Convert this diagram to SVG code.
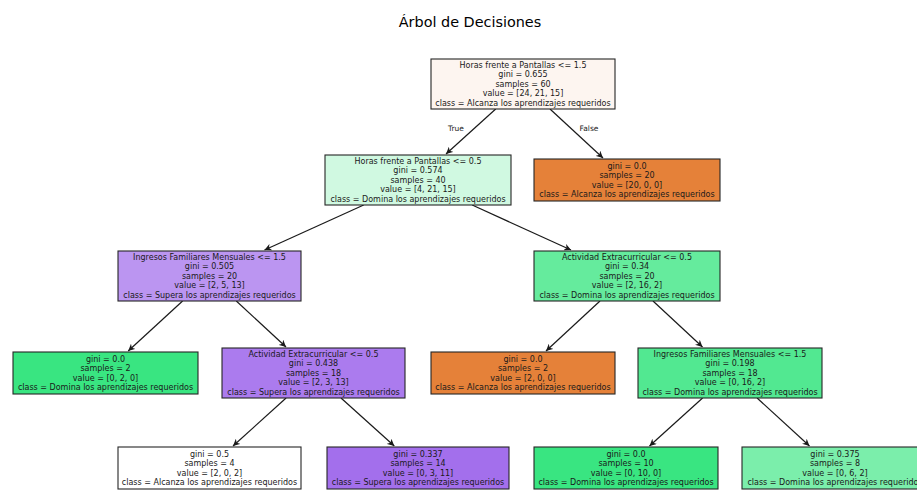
<svg xmlns="http://www.w3.org/2000/svg" width="917" height="491" viewBox="0 0 917 491">
<defs>
<marker id="ah" viewBox="0 0 10 10" refX="10" refY="5" markerWidth="7" markerHeight="7" markerUnits="userSpaceOnUse" orient="auto">
<path d="M0,0 L10,5 L0,10 L3,5 Z" fill="#1a1a1a"/>
</marker>
<style>
text{font-family:"DejaVu Sans","Liberation Sans",sans-serif;fill:#1a1a1a;text-anchor:middle}
.t{font-size:8px}
.title{font-size:14.4px;fill:#000}
.lbl{font-size:7.5px}
.n rect{stroke:#262626;stroke-width:1.1}
.c line{stroke:#1a1a1a;stroke-width:1.2;marker-end:url(#ah)}
</style>
</defs>
<text class="title" x="470" y="27">Árbol de Decisiones</text>

<g id="connectors" class="c">
<line x1="495.7" y1="109" x2="446" y2="154"/>
<line x1="550" y1="109" x2="603" y2="158"/>
<line x1="363.7" y1="205" x2="264.5" y2="250"/>
<line x1="472.2" y1="205" x2="571" y2="250"/>
<line x1="182.6" y1="301" x2="128.2" y2="351"/>
<line x1="236.3" y1="301" x2="286" y2="347"/>
<line x1="600" y1="301" x2="546" y2="351"/>
<line x1="653" y1="301" x2="702.5" y2="347"/>
<line x1="286.1" y1="398" x2="233" y2="446"/>
<line x1="341" y1="398" x2="394.3" y2="446"/>
<line x1="702.6" y1="398" x2="649.5" y2="446"/>
<line x1="757.1" y1="398" x2="809.5" y2="446"/>
</g>
<text class="lbl" x="456" y="131">True</text>
<text class="lbl" x="589" y="131">False</text>

<g id="n0" class="n">
<rect x="431" y="59" width="184" height="50" fill="#fdf5f0"/>
<text class="t" x="523" y="67.9">Horas frente a Pantallas &lt;= 1.5</text>
<text class="t" x="523" y="77.4">gini = 0.655</text>
<text class="t" x="523" y="86.9">samples = 60</text>
<text class="t" x="523" y="96.4">value = [24, 21, 15]</text>
<text class="t" x="523" y="105.9">class = Alcanza los aprendizajes requeridos</text>
</g>

<g id="n1" class="n">
<rect x="325" y="155" width="186" height="50" fill="#d0f9e1"/>
<text class="t" x="418" y="163.9">Horas frente a Pantallas &lt;= 0.5</text>
<text class="t" x="418" y="173.4">gini = 0.574</text>
<text class="t" x="418" y="182.9">samples = 40</text>
<text class="t" x="418" y="192.4">value = [4, 21, 15]</text>
<text class="t" x="418" y="201.9">class = Domina los aprendizajes requeridos</text>
</g>

<g id="n2" class="n">
<rect x="534" y="159" width="186" height="42" fill="#e58139"/>
<text class="t" x="627" y="168.65">gini = 0.0</text>
<text class="t" x="627" y="178.15">samples = 20</text>
<text class="t" x="627" y="187.65">value = [20, 0, 0]</text>
<text class="t" x="627" y="197.15">class = Alcanza los aprendizajes requeridos</text>
</g>

<g id="n3" class="n">
<rect x="118" y="251" width="183" height="50" fill="#bb95f1"/>
<text class="t" x="209.5" y="259.9">Ingresos Familiares Mensuales &lt;= 1.5</text>
<text class="t" x="209.5" y="269.4">gini = 0.505</text>
<text class="t" x="209.5" y="278.9">samples = 20</text>
<text class="t" x="209.5" y="288.4">value = [2, 5, 13]</text>
<text class="t" x="209.5" y="297.9">class = Supera los aprendizajes requeridos</text>
</g>

<g id="n4" class="n">
<rect x="534" y="251" width="186" height="50" fill="#65eb9d"/>
<text class="t" x="627" y="259.9">Actividad Extracurricular &lt;= 0.5</text>
<text class="t" x="627" y="269.4">gini = 0.34</text>
<text class="t" x="627" y="278.9">samples = 20</text>
<text class="t" x="627" y="288.4">value = [2, 16, 2]</text>
<text class="t" x="627" y="297.9">class = Domina los aprendizajes requeridos</text>
</g>

<g id="n5" class="n">
<rect x="13" y="352" width="185" height="42" fill="#39e581"/>
<text class="t" x="105.5" y="361.65">gini = 0.0</text>
<text class="t" x="105.5" y="371.15">samples = 2</text>
<text class="t" x="105.5" y="380.65">value = [0, 2, 0]</text>
<text class="t" x="105.5" y="390.15">class = Domina los aprendizajes requeridos</text>
</g>

<g id="n6" class="n">
<rect x="222" y="348" width="183" height="50" fill="#ab7bee"/>
<text class="t" x="313.5" y="356.9">Actividad Extracurricular &lt;= 0.5</text>
<text class="t" x="313.5" y="366.4">gini = 0.438</text>
<text class="t" x="313.5" y="375.9">samples = 18</text>
<text class="t" x="313.5" y="385.4">value = [2, 3, 13]</text>
<text class="t" x="313.5" y="394.9">class = Supera los aprendizajes requeridos</text>
</g>

<g id="n7" class="n">
<rect x="431" y="352" width="184" height="42" fill="#e58139"/>
<text class="t" x="523" y="361.65">gini = 0.0</text>
<text class="t" x="523" y="371.15">samples = 2</text>
<text class="t" x="523" y="380.65">value = [2, 0, 0]</text>
<text class="t" x="523" y="390.15">class = Alcanza los aprendizajes requeridos</text>
</g>

<g id="n8" class="n">
<rect x="638" y="348" width="184" height="50" fill="#52e891"/>
<text class="t" x="730" y="356.9">Ingresos Familiares Mensuales &lt;= 1.5</text>
<text class="t" x="730" y="366.4">gini = 0.198</text>
<text class="t" x="730" y="375.9">samples = 18</text>
<text class="t" x="730" y="385.4">value = [0, 16, 2]</text>
<text class="t" x="730" y="394.9">class = Domina los aprendizajes requeridos</text>
</g>

<g id="n9" class="n">
<rect x="118" y="447" width="183" height="42" fill="#ffffff"/>
<text class="t" x="209.5" y="456.65">gini = 0.5</text>
<text class="t" x="209.5" y="466.15">samples = 4</text>
<text class="t" x="209.5" y="475.65">value = [2, 0, 2]</text>
<text class="t" x="209.5" y="485.15">class = Alcanza los aprendizajes requeridos</text>
</g>

<g id="n10" class="n">
<rect x="327" y="447" width="182" height="42" fill="#a36fec"/>
<text class="t" x="418" y="456.65">gini = 0.337</text>
<text class="t" x="418" y="466.15">samples = 14</text>
<text class="t" x="418" y="475.65">value = [0, 3, 11]</text>
<text class="t" x="418" y="485.15">class = Supera los aprendizajes requeridos</text>
</g>

<g id="n11" class="n">
<rect x="534" y="447" width="184" height="42" fill="#39e581"/>
<text class="t" x="626" y="456.65">gini = 0.0</text>
<text class="t" x="626" y="466.15">samples = 10</text>
<text class="t" x="626" y="475.65">value = [0, 10, 0]</text>
<text class="t" x="626" y="485.15">class = Domina los aprendizajes requeridos</text>
</g>

<g id="n12" class="n">
<rect x="742" y="447" width="186" height="42" fill="#7beeab"/>
<text class="t" x="835" y="456.65">gini = 0.375</text>
<text class="t" x="835" y="466.15">samples = 8</text>
<text class="t" x="835" y="475.65">value = [0, 6, 2]</text>
<text class="t" x="835" y="485.15">class = Domina los aprendizajes requeridos</text>
</g>
</svg>
